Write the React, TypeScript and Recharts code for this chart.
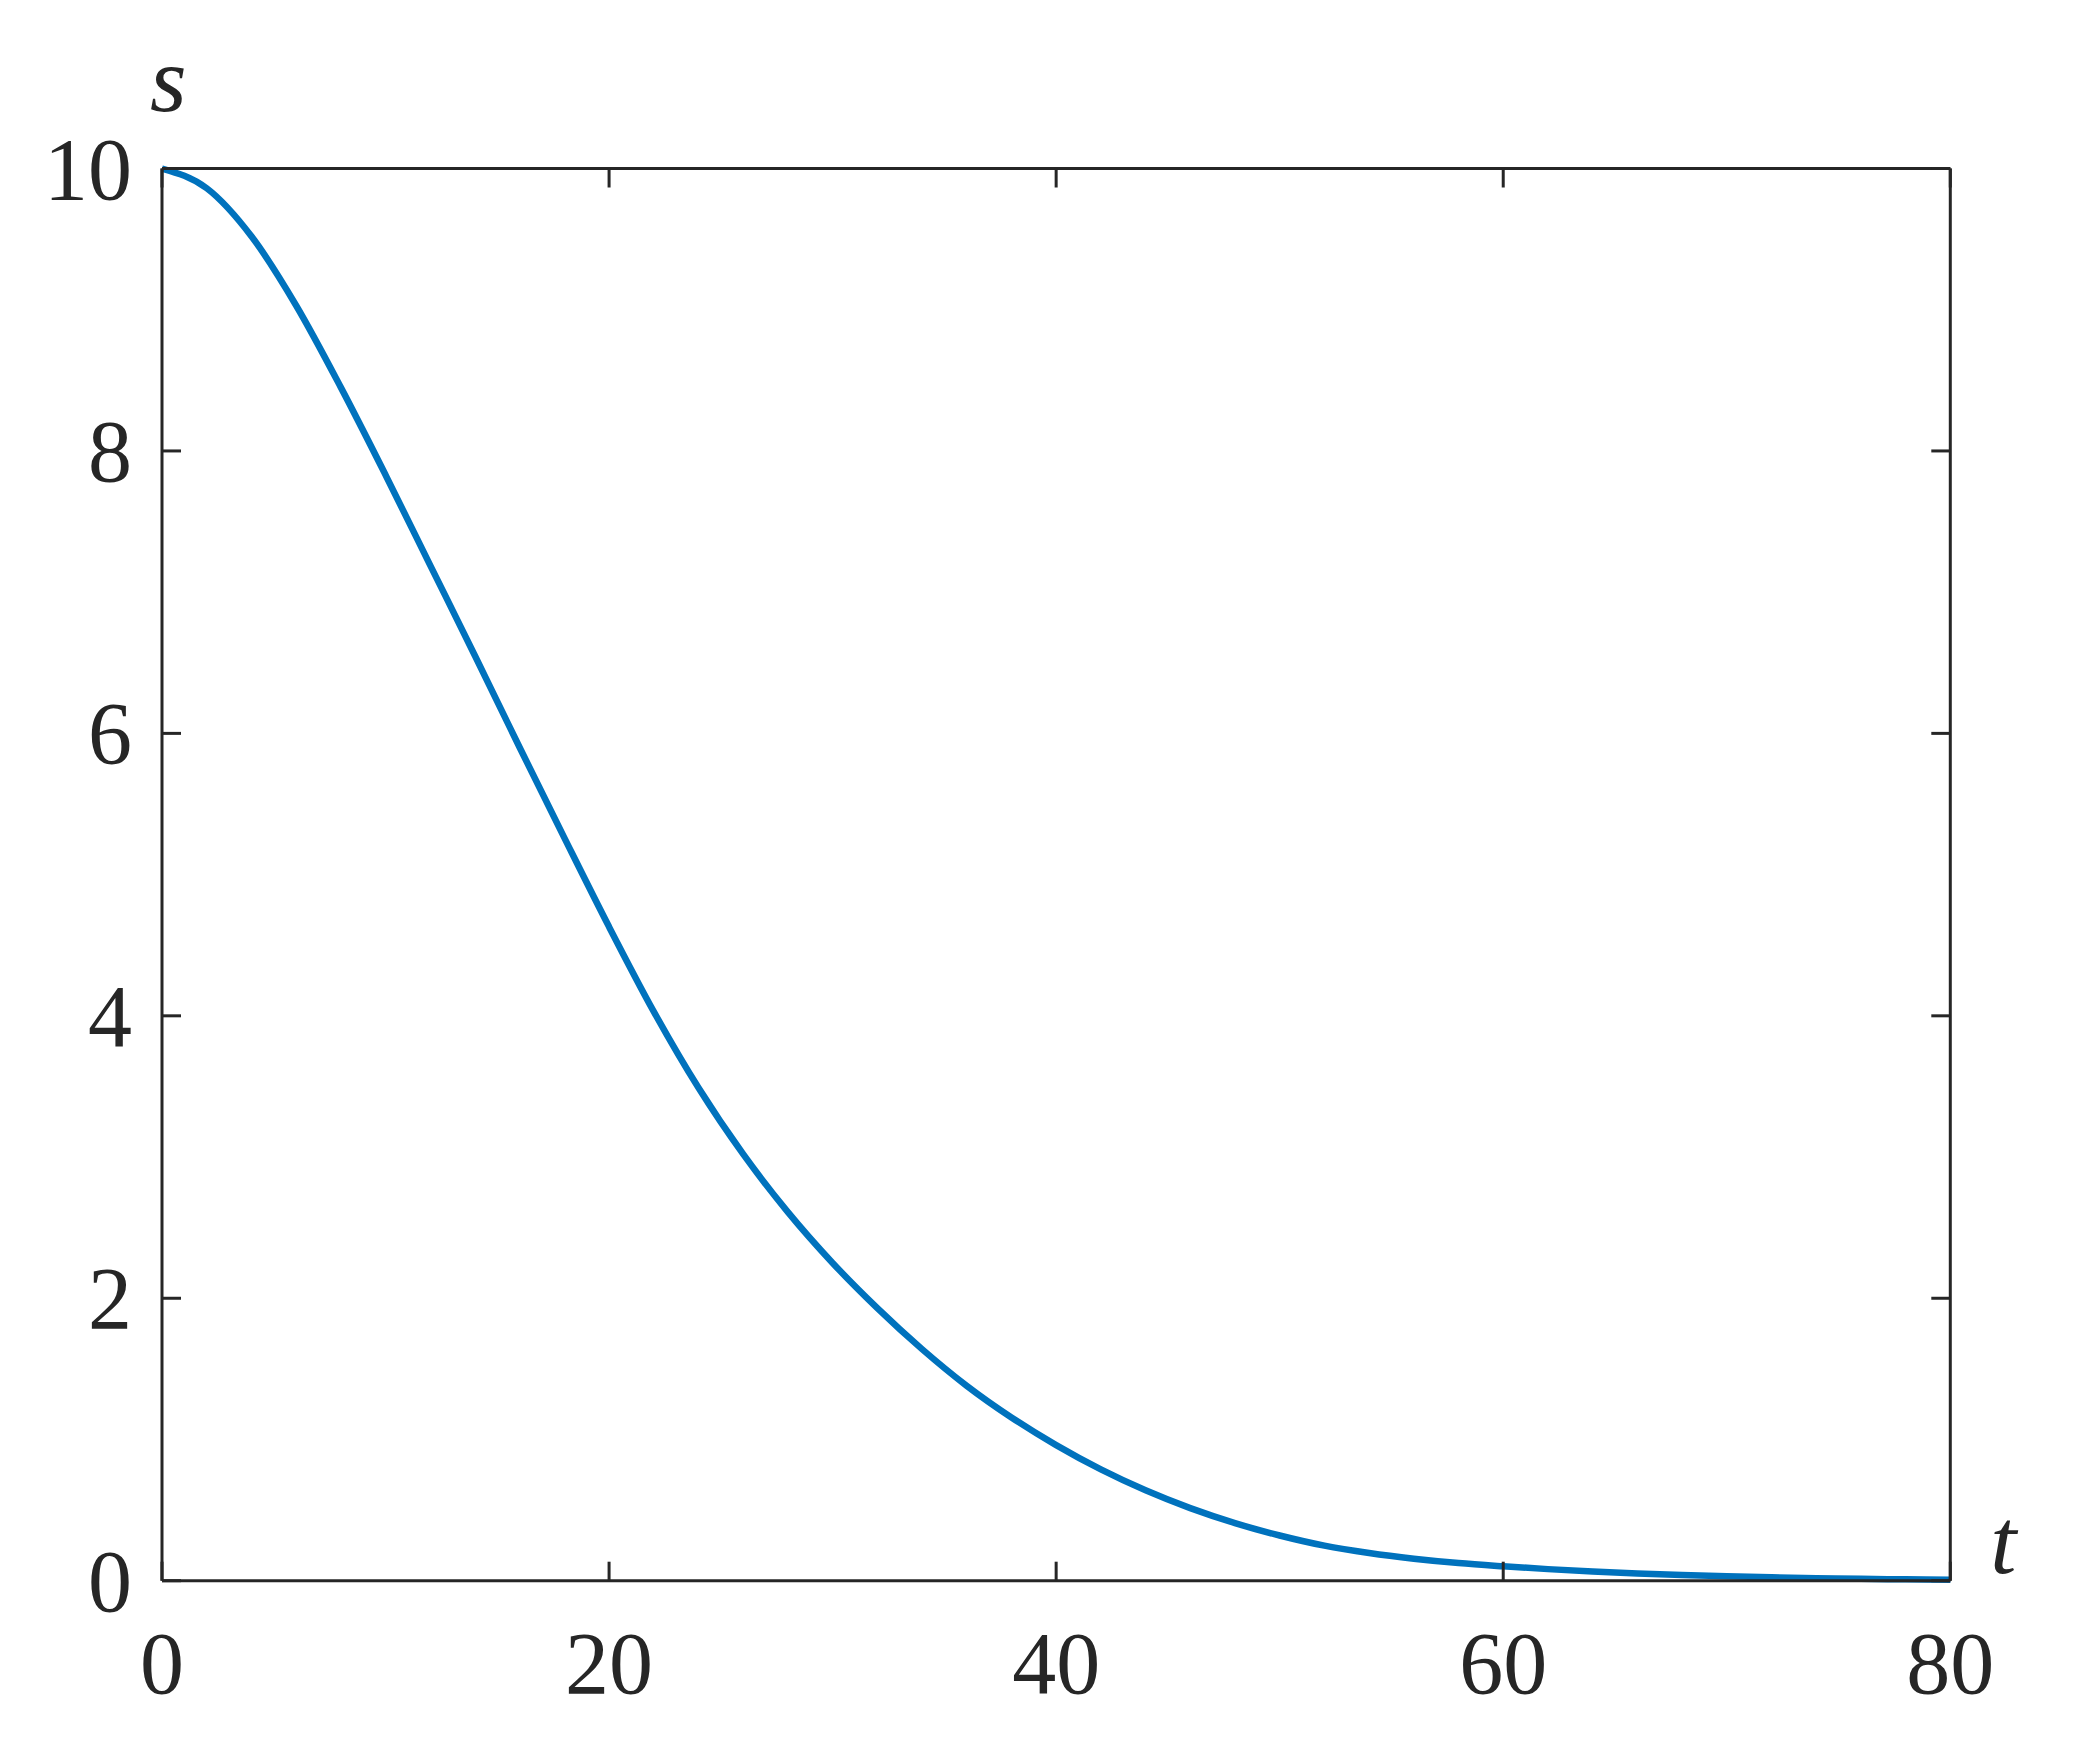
import { LineChart, Line, XAxis, YAxis } from 'recharts';

// time samples and the read-off values of s(t)
const T_VALUES = [0, 2, 4, 6, 8, 10, 12, 14, 16, 18, 20, 22, 24, 26, 28, 30, 32, 34, 36, 38, 40, 42, 44, 46, 48, 50, 52, 54, 56, 58, 60, 62, 64, 66, 68, 70, 72, 74, 76, 78, 80];
const S_VALUES = [10.0, 9.86, 9.52, 9.03, 8.45, 7.83, 7.19, 6.55, 5.9, 5.26, 4.63, 4.03, 3.49, 3.02, 2.61, 2.25, 1.93, 1.64, 1.38, 1.156, 0.96, 0.788, 0.64, 0.514, 0.408, 0.32, 0.248, 0.196, 0.156, 0.125, 0.102, 0.082, 0.065, 0.051, 0.04, 0.031, 0.024, 0.018, 0.013, 0.0095, 0.007];

const X_TICKS = [0, 20, 40, 60, 80];
const Y_TICKS = [0, 2, 4, 6, 8, 10];

const data = T_VALUES.map((t, i) => ({ t, s: S_VALUES[i] }));

const INK = '#262626';
const BLUE = '#0072BD';
const FONT = '"Liberation Serif", "Times New Roman", serif';
const TICK_LEN = 19;

const BottomTick = ({ x, y, payload }: any) => (
  <g>
    <line x1={x} x2={x} y1={y} y2={y - TICK_LEN} stroke={INK} strokeWidth={3} />
    <text x={x} y={y + 112} textAnchor="middle" fill={INK} fontSize={88} fontFamily={FONT}>
      {payload.value}
    </text>
  </g>
);

const TopTick = ({ x, y }: any) => (
  <line x1={x} x2={x} y1={y} y2={y + TICK_LEN} stroke={INK} strokeWidth={3} />
);

const LeftTick = ({ x, y, payload }: any) => (
  <g>
    <line x1={x} x2={x + TICK_LEN} y1={y} y2={y} stroke={INK} strokeWidth={3} />
    <text x={x - 30} y={y + 30} textAnchor="end" fill={INK} fontSize={88} fontFamily={FONT}>
      {payload.value}
    </text>
  </g>
);

const RightTick = ({ x, y }: any) => (
  <line x1={x} x2={x - TICK_LEN} y1={y} y2={y} stroke={INK} strokeWidth={3} />
);

const axisLine = { stroke: INK, strokeWidth: 3 };

export default function App() {
  return (
    <div style={{ position: 'absolute', left: 0, top: 0, background: '#fff' }}>
      <LineChart
        width={2075}
        height={1754}
        data={data}
        margin={{ top: 167.5, right: 123.7, bottom: 0, left: 0 }}
      >
        <XAxis
          dataKey="t"
          type="number"
          domain={[0, 80]}
          ticks={X_TICKS}
          height={173.3}
          axisLine={axisLine}
          tickLine={false}
          tickSize={0}
          tickMargin={0}
          tick={<BottomTick />}
          interval={0}
          label={{
            content: ({ viewBox }: any) => (
              <text
                x={viewBox.x + viewBox.width + 40}
                y={viewBox.y - 8}
                fill={INK}
                fontSize={94}
                fontStyle="italic"
                fontFamily={FONT}
              >
                t
              </text>
            ),
          }}
        />
        <XAxis
          xAxisId="top"
          dataKey="t"
          type="number"
          orientation="top"
          domain={[0, 80]}
          ticks={X_TICKS}
          height={1}
          axisLine={axisLine}
          tickLine={false}
          tickSize={0}
          tickMargin={0}
          tick={<TopTick />}
          interval={0}
        />
        <YAxis
          type="number"
          domain={[0, 10]}
          ticks={Y_TICKS}
          width={162}
          axisLine={axisLine}
          tickLine={false}
          tickSize={0}
          tickMargin={0}
          tick={<LeftTick />}
          interval={0}
          label={{
            content: ({ viewBox }: any) => (
              <text
                x={viewBox.x + viewBox.width - 12}
                y={viewBox.y - 58}
                fill={INK}
                fontSize={94}
                fontStyle="italic"
                fontFamily={FONT}
              >
                s
              </text>
            ),
          }}
        />
        <YAxis
          yAxisId="right"
          type="number"
          orientation="right"
          domain={[0, 10]}
          ticks={Y_TICKS}
          width={1}
          axisLine={axisLine}
          tickLine={false}
          tickSize={0}
          tickMargin={0}
          tick={<RightTick />}
          interval={0}
        />
        {/* invisible copy so the top/right frame axes get drawn */}
        <Line
          xAxisId="top"
          yAxisId="right"
          dataKey="s"
          stroke="none"
          dot={false}
          activeDot={false}
          isAnimationActive={false}
        />
        <Line
          type="monotone"
          dataKey="s"
          stroke={BLUE}
          strokeWidth={6.5}
          dot={false}
          isAnimationActive={false}
        />
      </LineChart>
    </div>
  );
}
